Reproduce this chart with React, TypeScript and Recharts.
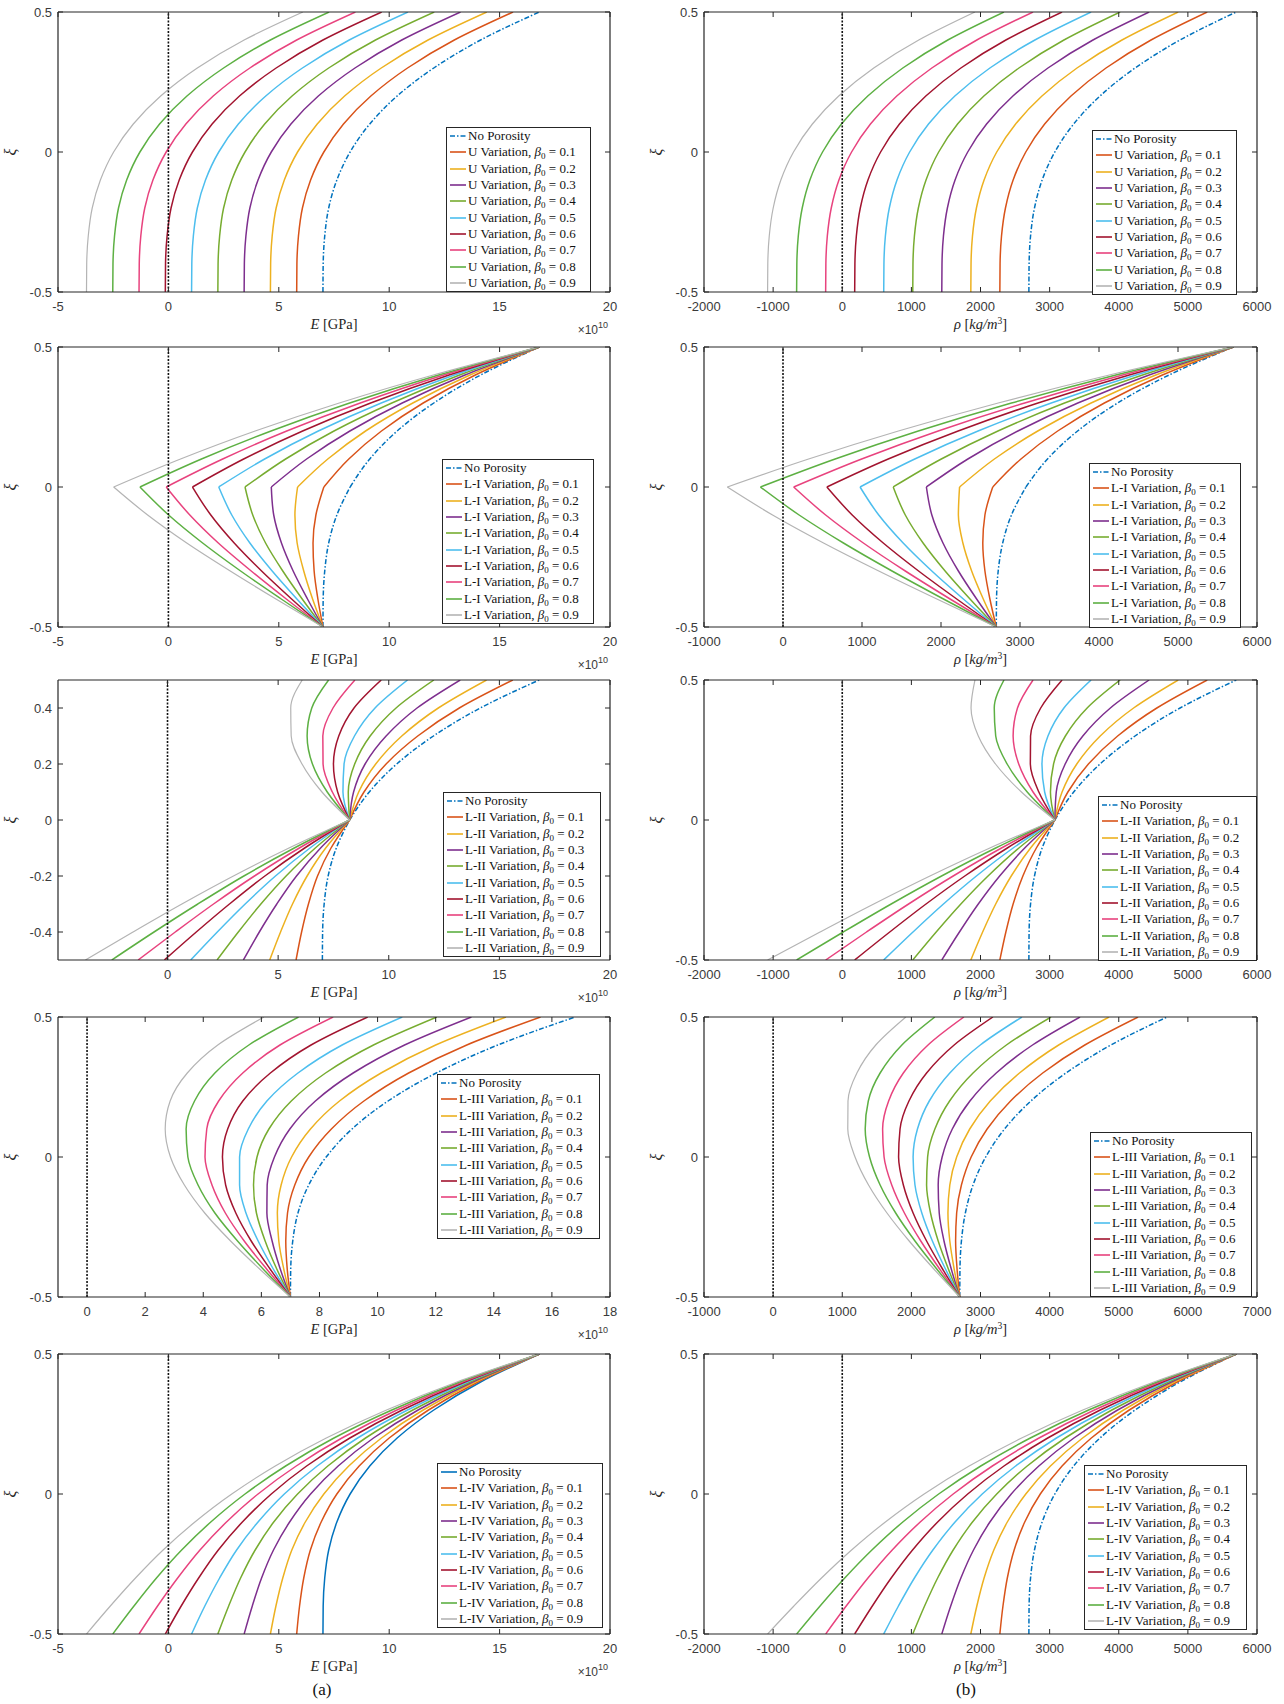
import React from 'react';
import { LineChart, Line, XAxis, YAxis, ReferenceLine, Legend } from 'recharts';

// thickness coordinate, same for every curve
const XI = [-0.5, -0.4, -0.3, -0.2, -0.1, 0, 0.1, 0.2, 0.3, 0.4, 0.5];
const BETAS = ['0.1', '0.2', '0.3', '0.4', '0.5', '0.6', '0.7', '0.8', '0.9'];

const BLUE = '#0072BD';
const COLORS = ['#D95319', '#EDB120', '#7E2F8E', '#77AC30', '#4DBEEE', '#A2142F', '#E8437E', '#5DB043', '#B4B4B4'];

// E in units of 1e10 Pa
const E_NONE = [7.0, 7.01, 7.08, 7.26, 7.63, 8.23, 9.12, 10.36, 12.02, 14.14, 16.8];
const RHO_NONE = [2700, 2703, 2724, 2781, 2892, 3075, 3348, 3729, 4236, 4887, 5700];

const E_U = [
  [5.81, 5.82, 5.89, 6.07, 6.44, 7.04, 7.93, 9.17, 10.83, 12.95, 15.61],
  [4.62, 4.63, 4.7, 4.88, 5.25, 5.85, 6.74, 7.98, 9.64, 11.76, 14.42],
  [3.43, 3.44, 3.51, 3.69, 4.06, 4.66, 5.55, 6.79, 8.45, 10.57, 13.23],
  [2.24, 2.25, 2.32, 2.5, 2.87, 3.47, 4.36, 5.6, 7.26, 9.38, 12.04],
  [1.05, 1.06, 1.13, 1.31, 1.68, 2.28, 3.17, 4.41, 6.07, 8.19, 10.85],
  [-0.14, -0.13, -0.06, 0.12, 0.49, 1.09, 1.98, 3.22, 4.88, 7.0, 9.66],
  [-1.33, -1.32, -1.25, -1.07, -0.7, -0.1, 0.79, 2.03, 3.69, 5.81, 8.47],
  [-2.52, -2.51, -2.44, -2.26, -1.89, -1.29, -0.4, 0.84, 2.5, 4.62, 7.28],
  [-3.71, -3.7, -3.63, -3.45, -3.08, -2.48, -1.59, -0.35, 1.31, 3.43, 6.09],
];
const RHO_U = [
  [2280, 2283, 2304, 2361, 2472, 2655, 2928, 3309, 3816, 4467, 5280],
  [1860, 1863, 1884, 1941, 2052, 2235, 2508, 2889, 3396, 4047, 4860],
  [1440, 1443, 1464, 1521, 1632, 1815, 2088, 2469, 2976, 3627, 4440],
  [1020, 1023, 1044, 1101, 1212, 1395, 1668, 2049, 2556, 3207, 4020],
  [600, 603, 624, 681, 792, 975, 1248, 1629, 2136, 2787, 3600],
  [180, 183, 204, 261, 372, 555, 828, 1209, 1716, 2367, 3180],
  [-240, -237, -216, -159, -48, 135, 408, 789, 1296, 1947, 2760],
  [-660, -657, -636, -579, -468, -285, -12, 369, 876, 1527, 2340],
  [-1080, -1077, -1056, -999, -888, -705, -432, -51, 456, 1107, 1920],
];
const E_L1 = [
  [7.0, 6.77, 6.6, 6.55, 6.68, 7.04, 8.17, 9.65, 11.54, 13.9, 16.8],
  [7.0, 6.53, 6.13, 5.83, 5.73, 5.85, 7.22, 8.93, 11.07, 13.66, 16.8],
  [7.0, 6.3, 5.65, 5.12, 4.77, 4.66, 6.26, 8.22, 10.59, 13.43, 16.8],
  [7.0, 6.06, 5.18, 4.4, 3.82, 3.47, 5.31, 7.5, 10.12, 13.19, 16.8],
  [7.0, 5.82, 4.7, 3.69, 2.87, 2.28, 4.36, 6.79, 9.64, 12.95, 16.8],
  [7.0, 5.58, 4.22, 2.98, 1.92, 1.09, 3.41, 6.08, 9.16, 12.71, 16.8],
  [7.0, 5.34, 3.75, 2.26, 0.97, -0.1, 2.46, 5.36, 8.69, 12.47, 16.8],
  [7.0, 5.11, 3.27, 1.55, 0.01, -1.29, 1.5, 4.65, 8.21, 12.24, 16.8],
  [7.0, 4.87, 2.8, 0.83, -0.94, -2.48, 0.55, 3.93, 7.74, 12.0, 16.8],
];
const RHO_L1 = [
  [2700, 2619, 2556, 2529, 2556, 2655, 3012, 3477, 4068, 4803, 5700],
  [2700, 2535, 2388, 2277, 2220, 2235, 2676, 3225, 3900, 4719, 5700],
  [2700, 2451, 2220, 2025, 1884, 1815, 2340, 2973, 3732, 4635, 5700],
  [2700, 2367, 2052, 1773, 1548, 1395, 2004, 2721, 3564, 4551, 5700],
  [2700, 2283, 1884, 1521, 1212, 975, 1668, 2469, 3396, 4467, 5700],
  [2700, 2199, 1716, 1269, 876, 555, 1332, 2217, 3228, 4383, 5700],
  [2700, 2115, 1548, 1017, 540, 135, 996, 1965, 3060, 4299, 5700],
  [2700, 2031, 1380, 765, 204, -285, 660, 1713, 2892, 4215, 5700],
  [2700, 1947, 1212, 513, -132, -705, 324, 1461, 2724, 4131, 5700],
];
const E_L2 = [
  [5.81, 6.06, 6.37, 6.78, 7.39, 8.23, 8.88, 9.88, 11.31, 13.19, 15.61],
  [4.62, 5.11, 5.65, 6.31, 7.15, 8.23, 8.64, 9.41, 10.59, 12.24, 14.42],
  [3.43, 4.15, 4.94, 5.83, 6.92, 8.23, 8.41, 8.93, 9.88, 11.28, 13.23],
  [2.24, 3.2, 4.22, 5.36, 6.68, 8.23, 8.17, 8.46, 9.16, 10.33, 12.04],
  [1.05, 2.25, 3.51, 4.88, 6.44, 8.23, 7.93, 7.98, 8.45, 9.38, 10.85],
  [-0.14, 1.3, 2.8, 4.4, 6.2, 8.23, 7.69, 7.5, 7.74, 8.43, 9.66],
  [-1.33, 0.35, 2.08, 3.93, 5.96, 8.23, 7.45, 7.03, 7.02, 7.48, 8.47],
  [-2.52, -0.61, 1.37, 3.45, 5.73, 8.23, 7.22, 6.55, 6.31, 6.52, 7.28],
  [-3.71, -1.56, 0.65, 2.98, 5.49, 8.23, 6.98, 6.08, 5.59, 5.57, 6.09],
];
const RHO_L2 = [
  [2280, 2367, 2472, 2613, 2808, 3075, 3264, 3561, 3984, 4551, 5280],
  [1860, 2031, 2220, 2445, 2724, 3075, 3180, 3393, 3732, 4215, 4860],
  [1440, 1695, 1968, 2277, 2640, 3075, 3096, 3225, 3480, 3879, 4440],
  [1020, 1359, 1716, 2109, 2556, 3075, 3012, 3057, 3228, 3543, 4020],
  [600, 1023, 1464, 1941, 2472, 3075, 2928, 2889, 2976, 3207, 3600],
  [180, 687, 1212, 1773, 2388, 3075, 2844, 2721, 2724, 2871, 3180],
  [-240, 351, 960, 1605, 2304, 3075, 2760, 2553, 2472, 2535, 2760],
  [-660, 15, 708, 1437, 2220, 3075, 2676, 2385, 2220, 2199, 2340],
  [-1080, -321, 456, 1269, 2136, 3075, 2592, 2217, 1968, 1863, 1920],
];
const E_L3 = [
  [7.0, 6.89, 6.84, 6.9, 7.15, 7.63, 8.41, 9.53, 11.07, 13.07, 15.61],
  [7.0, 6.77, 6.6, 6.55, 6.68, 7.04, 7.69, 8.69, 10.12, 12.0, 14.42],
  [7.0, 6.65, 6.37, 6.19, 6.2, 6.45, 6.98, 7.86, 9.16, 10.93, 13.23],
  [7.0, 6.53, 6.13, 5.83, 5.73, 5.85, 6.26, 7.03, 8.21, 9.86, 12.04],
  [7.0, 6.41, 5.89, 5.47, 5.25, 5.25, 5.55, 6.19, 7.26, 8.78, 10.85],
  [7.0, 6.3, 5.65, 5.12, 4.77, 4.66, 4.84, 5.36, 6.31, 7.71, 9.66],
  [7.0, 6.18, 5.41, 4.76, 4.3, 4.06, 4.12, 4.53, 5.36, 6.64, 8.47],
  [7.0, 6.06, 5.18, 4.4, 3.82, 3.47, 3.41, 3.7, 4.4, 5.57, 7.28],
  [7.0, 5.94, 4.94, 4.05, 3.35, 2.87, 2.69, 2.86, 3.45, 4.5, 6.09],
];
const RHO_L3 = [
  [2700, 2661, 2640, 2655, 2724, 2865, 3096, 3435, 3900, 4509, 5280],
  [2700, 2619, 2556, 2529, 2556, 2655, 2844, 3141, 3564, 4131, 4860],
  [2700, 2577, 2472, 2403, 2388, 2445, 2592, 2847, 3228, 3753, 4440],
  [2700, 2535, 2388, 2277, 2220, 2235, 2340, 2553, 2892, 3375, 4020],
  [2700, 2493, 2304, 2151, 2052, 2025, 2088, 2259, 2556, 2997, 3600],
  [2700, 2451, 2220, 2025, 1884, 1815, 1836, 1965, 2220, 2619, 3180],
  [2700, 2409, 2136, 1899, 1716, 1605, 1584, 1671, 1884, 2241, 2760],
  [2700, 2367, 2052, 1773, 1548, 1395, 1332, 1377, 1548, 1863, 2340],
  [2700, 2325, 1968, 1647, 1380, 1185, 1080, 1083, 1212, 1485, 1920],
];
const E_L4 = [
  [5.81, 5.94, 6.13, 6.43, 6.92, 7.63, 8.64, 10.0, 11.78, 14.02, 16.8],
  [4.62, 4.87, 5.18, 5.59, 6.2, 7.04, 8.17, 9.65, 11.54, 13.9, 16.8],
  [3.43, 3.8, 4.22, 4.76, 5.49, 6.44, 7.69, 9.29, 11.31, 13.78, 16.8],
  [2.24, 2.73, 3.27, 3.93, 4.77, 5.85, 7.22, 8.93, 11.07, 13.66, 16.8],
  [1.05, 1.65, 2.32, 3.09, 4.06, 5.25, 6.74, 8.57, 10.83, 13.54, 16.8],
  [-0.14, 0.58, 1.37, 2.26, 3.35, 4.66, 6.26, 8.22, 10.59, 13.43, 16.8],
  [-1.33, -0.49, 0.42, 1.43, 2.63, 4.06, 5.79, 7.86, 10.35, 13.31, 16.8],
  [-2.52, -1.56, -0.54, 0.6, 1.92, 3.47, 5.31, 7.5, 10.12, 13.19, 16.8],
  [-3.71, -2.63, -1.49, -0.24, 1.2, 2.87, 4.84, 7.15, 9.88, 13.07, 16.8],
];
const RHO_L4 = [
  [2280, 2325, 2388, 2487, 2640, 2865, 3180, 3603, 4152, 4845, 5700],
  [1860, 1947, 2052, 2193, 2388, 2655, 3012, 3477, 4068, 4803, 5700],
  [1440, 1569, 1716, 1899, 2136, 2445, 2844, 3351, 3984, 4761, 5700],
  [1020, 1191, 1380, 1605, 1884, 2235, 2676, 3225, 3900, 4719, 5700],
  [600, 813, 1044, 1311, 1632, 2025, 2508, 3099, 3816, 4677, 5700],
  [180, 435, 708, 1017, 1380, 1815, 2340, 2973, 3732, 4635, 5700],
  [-240, 57, 372, 723, 1128, 1605, 2172, 2847, 3648, 4593, 5700],
  [-660, -321, 36, 429, 876, 1395, 2004, 2721, 3564, 4551, 5700],
  [-1080, -699, -300, 135, 624, 1185, 1836, 2595, 3480, 4509, 5700],
];

const E_TICKS = [-5, 0, 5, 10, 15, 20];
const E_TICKS_L2 = [0, 5, 10, 15, 20];
const E_TICKS_L3 = [0, 2, 4, 6, 8, 10, 12, 14, 16, 18];
const RHO_TICKS = [-2000, -1000, 0, 1000, 2000, 3000, 4000, 5000, 6000];
const RHO_TICKS_L1 = [-1000, 0, 1000, 2000, 3000, 4000, 5000, 6000];
const RHO_TICKS_L3 = [-1000, 0, 1000, 2000, 3000, 4000, 5000, 6000, 7000];
const XI_TICKS = [-0.5, 0, 0.5];
const XI_TICKS_L2 = [-0.4, -0.2, 0, 0.2, 0.4];

const SANS = '"Liberation Sans", Arial, sans-serif';
const SERIF = '"Liberation Serif", "Times New Roman", serif';
const AX = '#262626';
const TICK_TXT = '#3a3a3a';

const PLOT_TOPS = [12, 347, 680, 1017, 1354];
const PLOT_H = 280;
const TOP_M = 10;
const X_AXIS_H = 48;

const toPoints = (vals: number[]) => XI.map((xi, i) => ({ v: vals[i], xi }));

// piecewise curves (porosity profile with a corner at the mid-plane) are drawn as two smooth halves
const pieces = (vals: number[], kinked: boolean) => {
  const pts = toPoints(vals);
  return kinked ? [pts.slice(0, 6), pts.slice(5)] : [pts];
};

const BottomTick = (p: any) => (
  <g>
    <line x1={p.x} x2={p.x} y1={p.y} y2={p.y - 5} stroke={AX} />
    <text x={p.x} y={p.y + 19} textAnchor="middle" fontFamily={SANS} fontSize={13} fill={TICK_TXT}>
      {p.payload.value}
    </text>
  </g>
);
const LeftTick = (p: any) => (
  <g>
    <line x1={p.x} x2={p.x + 5} y1={p.y} y2={p.y} stroke={AX} />
    <text x={p.x - 6} y={p.y + 4.5} textAnchor="end" fontFamily={SANS} fontSize={13} fill={TICK_TXT}>
      {p.payload.value}
    </text>
  </g>
);
const TopTick = (p: any) => <line x1={p.x} x2={p.x} y1={p.y} y2={p.y + 5} stroke={AX} />;
const RightTick = (p: any) => <line x1={p.x} x2={p.x - 5} y1={p.y} y2={p.y} stroke={AX} />;

function XTitle({ viewBox, kind }: any) {
  const { x, y, width } = viewBox;
  const cx = x + width / 2;
  return (
    <g>
      {kind === 'E' ? (
        <text x={cx} y={y + 37} textAnchor="middle" fontFamily={SERIF} fontSize={14.5} fill={AX}>
          <tspan fontStyle="italic">E</tspan> [GPa]
        </text>
      ) : (
        <text x={cx} y={y + 37} textAnchor="middle" fontFamily={SERIF} fontSize={14.5} fill={AX}>
          <tspan fontStyle="italic">ρ</tspan> [<tspan fontStyle="italic">kg/m</tspan>
          <tspan dy={-5} fontSize={9.5}>3</tspan>
          <tspan dy={5}>]</tspan>
        </text>
      )}
      {kind === 'E' && (
        <text x={x + width - 2} y={y + 42} textAnchor="end" fontFamily={SANS} fontSize={12} fill={TICK_TXT}>
          ×10<tspan dy={-6} fontSize={9}>10</tspan>
        </text>
      )}
    </g>
  );
}

function YTitle({ viewBox }: any) {
  const { x, y, width, height } = viewBox;
  const tx = x + width - 42;
  const ty = y + height / 2;
  return (
    <text x={tx} y={ty} transform={`rotate(-90 ${tx} ${ty})`} textAnchor="middle" fontFamily={SERIF} fontStyle="italic" fontSize={16} fill={AX}>
      ξ
    </text>
  );
}

function LegendRow({ color, dash, children }: any) {
  return (
    <div style={{ display: 'flex', alignItems: 'center', height: 16.3 }}>
      <svg width={18} height={8} style={{ flex: 'none' }}>
        <line x1={1} x2={17} y1={4} y2={4} stroke={color} strokeWidth={1.6} strokeDasharray={dash} />
      </svg>
      <span style={{ marginLeft: 1 }}>{children}</span>
    </div>
  );
}

function LegendBox({ variation, solidNone, width }: any) {
  return (
    <div
      style={{
        width,
        height: 165,
        boxSizing: 'border-box',
        border: `1.4px solid ${AX}`,
        background: '#fff',
        padding: '0 2px',
        fontFamily: SERIF,
        fontSize: 13,
        color: '#111',
        whiteSpace: 'nowrap',
        overflow: 'hidden',
      }}
    >
      <LegendRow color={BLUE} dash={solidNone ? undefined : '5 2 1.5 2'}>
        No Porosity
      </LegendRow>
      {BETAS.map((b, i) => (
        <LegendRow key={b} color={COLORS[i]}>
          {variation} Variation, <i>β</i>
          <span style={{ fontSize: 9, position: 'relative', top: 3 }}>0</span> = {b}
        </LegendRow>
      ))}
    </div>
  );
}

type PanelProps = {
  row: number;
  col: number;
  kind: 'E' | 'rho';
  variation: string;
  none: number[];
  series: number[][];
  domain: [number, number];
  ticks: number[];
  yTicks: number[];
  legend: [number, number, number];
  solidNone?: boolean;
  kinked?: boolean;
};

function Panel(props: PanelProps) {
  const { row, col, kind, variation, none, series, domain, ticks, yTicks, legend, solidNone } = props;
  const kinked = !!props.kinked;
  const chartLeft = col === 0 ? 0 : 642;
  const axisW = col === 0 ? 58 : 62;
  const rightM = col === 0 ? 32 : 27;
  const chartTop = PLOT_TOPS[row] - TOP_M;
  const height = TOP_M + PLOT_H + X_AXIS_H;
  // invisible helper so the top/right frame axes get drawn
  const frame = [
    { v: domain[0], xi: -0.5 },
    { v: domain[1], xi: 0.5 },
  ];
  return (
    <div style={{ position: 'absolute', left: chartLeft, top: chartTop }}>
      <LineChart width={642} height={height} margin={{ top: TOP_M - 1, right: rightM - 1, bottom: 0, left: 0 }}>
        <XAxis
          dataKey="v"
          type="number"
          domain={domain}
          ticks={ticks}
          allowDataOverflow
          height={X_AXIS_H}
          tickSize={0}
          tickMargin={0}
          tickLine={false}
          tick={BottomTick}
          interval={0}
          axisLine={{ stroke: AX, strokeWidth: 1.2 }}
          label={{ content: (lp: any) => <XTitle viewBox={lp.viewBox} kind={kind} /> }}
        />
        <XAxis
          xAxisId="top"
          orientation="top"
          dataKey="v"
          type="number"
          domain={domain}
          ticks={ticks}
          allowDataOverflow
          height={1}
          tickSize={0}
          tickMargin={0}
          tickLine={false}
          tick={TopTick}
          interval={0}
          axisLine={{ stroke: AX, strokeWidth: 1.2 }}
        />
        <YAxis
          type="number"
          domain={[-0.5, 0.5]}
          ticks={yTicks}
          allowDataOverflow
          width={axisW}
          tickSize={0}
          tickMargin={0}
          tickLine={false}
          tick={LeftTick}
          interval={0}
          axisLine={{ stroke: AX, strokeWidth: 1.2 }}
          label={{ content: (lp: any) => <YTitle viewBox={lp.viewBox} /> }}
        />
        <YAxis
          yAxisId="right"
          orientation="right"
          type="number"
          domain={[-0.5, 0.5]}
          ticks={yTicks}
          allowDataOverflow
          width={1}
          tickSize={0}
          tickMargin={0}
          tickLine={false}
          tick={RightTick}
          interval={0}
          axisLine={{ stroke: AX, strokeWidth: 1.2 }}
        />
        <Line
          xAxisId="top"
          yAxisId="right"
          data={frame}
          dataKey="xi"
          stroke="none"
          dot={false}
          legendType="none"
          isAnimationActive={false}
        />
        {pieces(none, kinked).map((pts, k) => (
          <Line
            key={`none-${k}`}
            data={pts}
            dataKey="xi"
            type="monotoneY"
            stroke={BLUE}
            strokeWidth={1.5}
            strokeDasharray={solidNone ? undefined : '5 2 1.5 2'}
            dot={false}
            isAnimationActive={false}
          />
        ))}
        {series.map((vals, i) =>
          pieces(vals, kinked).map((pts, k) => (
            <Line
              key={`${BETAS[i]}-${k}`}
              data={pts}
              dataKey="xi"
              type="monotoneY"
              stroke={COLORS[i]}
              strokeWidth={i === 8 ? 1.2 : 1.5}
              dot={false}
              isAnimationActive={false}
            />
          ))
        )}
        <ReferenceLine x={0} stroke="#111" strokeWidth={1.6} strokeDasharray="2 1.5" />
        <Legend
          layout="vertical"
          align="center"
          verticalAlign="middle"
          wrapperStyle={{ left: legend[0] - chartLeft, top: legend[1] - chartTop, width: legend[2] }}
          content={() => <LegendBox variation={variation} solidNone={solidNone} width={legend[2]} />}
        />
      </LineChart>
    </div>
  );
}

export default function App() {
  return (
    <div style={{ position: 'absolute', left: 0, top: 0, width: 1284, height: 1704, background: '#fff' }}>
      <Panel row={0} col={0} kind="E" variation="U" none={E_NONE} series={E_U} domain={[-5, 20]} ticks={E_TICKS} yTicks={XI_TICKS} legend={[446, 127, 145]} />
      <Panel row={0} col={1} kind="rho" variation="U" none={RHO_NONE} series={RHO_U} domain={[-2000, 6000]} ticks={RHO_TICKS} yTicks={XI_TICKS} legend={[1092, 130, 145]} />
      <Panel row={1} col={0} kind="E" variation="L-I" none={E_NONE} series={E_L1} domain={[-5, 20]} ticks={E_TICKS} yTicks={XI_TICKS} legend={[442, 459, 152]} kinked />
      <Panel row={1} col={1} kind="rho" variation="L-I" none={RHO_NONE} series={RHO_L1} domain={[-1000, 6000]} ticks={RHO_TICKS_L1} yTicks={XI_TICKS} legend={[1089, 463, 152]} kinked />
      <Panel row={2} col={0} kind="E" variation="L-II" none={E_NONE} series={E_L2} domain={[-4.95, 20]} ticks={E_TICKS_L2} yTicks={XI_TICKS_L2} legend={[443, 792, 158]} kinked />
      <Panel row={2} col={1} kind="rho" variation="L-II" none={RHO_NONE} series={RHO_L2} domain={[-2000, 6000]} ticks={RHO_TICKS} yTicks={XI_TICKS} legend={[1098, 796, 159]} kinked />
      <Panel row={3} col={0} kind="E" variation="L-III" none={E_NONE} series={E_L3} domain={[-1, 18]} ticks={E_TICKS_L3} yTicks={XI_TICKS} legend={[437, 1074, 163]} />
      <Panel row={3} col={1} kind="rho" variation="L-III" none={RHO_NONE} series={RHO_L3} domain={[-1000, 7000]} ticks={RHO_TICKS_L3} yTicks={XI_TICKS} legend={[1090, 1132, 162]} />
      <Panel row={4} col={0} kind="E" variation="L-IV" none={E_NONE} series={E_L4} domain={[-5, 20]} ticks={E_TICKS} yTicks={XI_TICKS} legend={[437, 1463, 166]} solidNone />
      <Panel row={4} col={1} kind="rho" variation="L-IV" none={RHO_NONE} series={RHO_L4} domain={[-2000, 6000]} ticks={RHO_TICKS} yTicks={XI_TICKS} legend={[1084, 1465, 163]} />
      <div style={{ position: 'absolute', left: 322, top: 1690, transform: 'translate(-50%, -50%)', fontFamily: SERIF, fontSize: 17, color: '#111' }}>(a)</div>
      <div style={{ position: 'absolute', left: 966, top: 1690, transform: 'translate(-50%, -50%)', fontFamily: SERIF, fontSize: 17, color: '#111' }}>(b)</div>
    </div>
  );
}
